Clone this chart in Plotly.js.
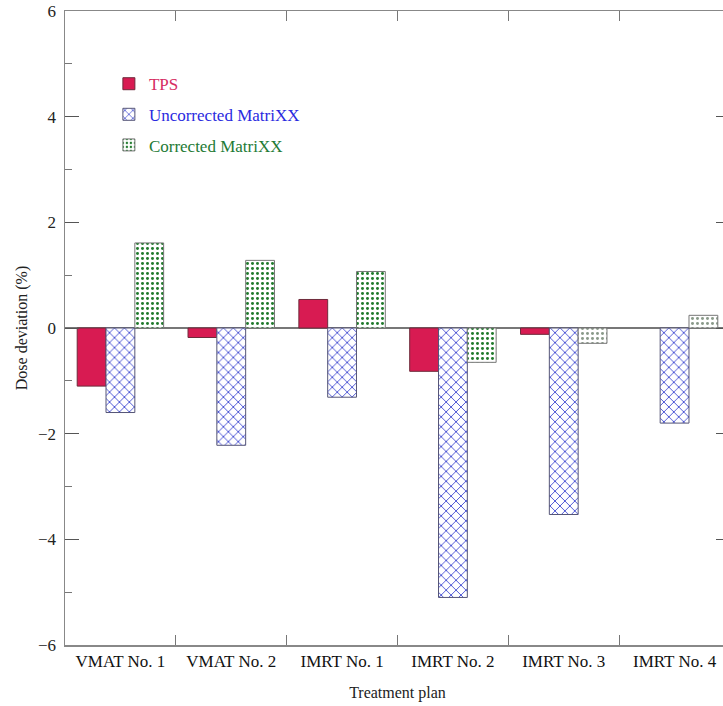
<!DOCTYPE html>
<html>
<head>
<meta charset="utf-8">
<script src="https://cdn.plot.ly/plotly-3.0.1.min.js"></script>
<style>
html,body{margin:0;padding:0;overflow:hidden;background:#fff;}
#chart{width:731px;height:706px;}
</style>
</head>
<body>
<div id="chart"></div>
<script>
var plans = ["VMAT No. 1", "VMAT No. 2", "IMRT No. 1", "IMRT No. 2", "IMRT No. 3", "IMRT No. 4"];
var tps = [-1.10, -0.18, 0.54, -0.82, -0.12, null];
var uncorrected = [-1.60, -2.22, -1.31, -5.10, -3.53, -1.80];
var corrected = [1.61, 1.28, 1.07, -0.65, -0.29, 0.24];
var seriesNames = ["TPS", "Uncorrected MatriXX", "Corrected MatriXX"];

var serif = "'Liberation Serif', 'Times New Roman', serif";
var correctedDots = ["#1f7a2c", "#1f7a2c", "#1f7a2c", "#1f7a2c", "#8a9a8a", "#8a9a8a"];

var traces = [
  {
    type: "bar", x: plans, y: tps,
    name: '<span style="color:#d62c62">' + seriesNames[0] + '</span>',
    legendgroup: "a",
    marker: {color: "#d81b52", line: {color: "#6e2a3a", width: 1}}
  },
  {
    type: "bar", x: plans, y: uncorrected,
    name: '<span style="color:#2a2ae0">' + seriesNames[1] + '</span>',
    legendgroup: "b",
    marker: {color: "#ffffff", line: {color: "#555577", width: 1},
      pattern: {shape: "x", fgcolor: "#2a36cc", bgcolor: "#ffffff", size: 7, solidity: 0.22}}
  },
  {
    type: "bar", x: plans, y: corrected,
    name: '<span style="color:#237a35">' + seriesNames[2] + '</span>',
    legendgroup: "c",
    marker: {color: "#ffffff", line: {color: "#777777", width: 1},
      pattern: {shape: ".", fgcolor: correctedDots, bgcolor: "#ffffff", size: 5, solidity: 0.28}}
  }
];

var layout = {
  width: 731, height: 706,
  margin: {l: 65, r: 1, t: 11, b: 61},
  paper_bgcolor: "#ffffff", plot_bgcolor: "#ffffff",
  font: {family: serif, size: 17, color: "#222222"},
  barmode: "group",
  bargap: 0.22,
  bargroupgap: 0,
  showlegend: true,
  legend: {
    x: 0.066, y: 0.913, xanchor: "left", yanchor: "top",
    bgcolor: "rgba(255,255,255,0)",
    font: {family: serif, size: 17},
    traceorder: "grouped", tracegroupgap: 5.5
  },
  xaxis: {
    type: "category",
    tickson: "boundaries",
    ticks: "inside", ticklen: 10, tickcolor: "#777777", tickwidth: 1,
    showline: true, linecolor: "#888888", linewidth: 1.5,
    mirror: "ticks",
    showgrid: false, zeroline: false,
    tickfont: {family: serif, size: 17, color: "#111111"},
    title: {text: "Treatment plan", font: {family: serif, size: 16, color: "#222222"}, standoff: 17}
  },
  yaxis: {
    range: [-6, 6], dtick: 2, tick0: 0,
    ticks: "inside", ticklen: 14, tickcolor: "#555555", tickwidth: 1,
    minor: {dtick: 1, ticks: "inside", ticklen: 7, tickcolor: "#777777", showgrid: false},
    showline: true, linecolor: "#888888", linewidth: 1.5,
    mirror: "ticks",
    showgrid: false,
    zeroline: true, zerolinecolor: "#777777", zerolinewidth: 1.5,
    tickfont: {family: serif, size: 17, color: "#222222"},
    ticklabelstandoff: 4,
    title: {text: "Dose deviation (%)", font: {family: serif, size: 16, color: "#222222"}, standoff: 6}
  }
};

Plotly.newPlot("chart", traces, layout, {displayModeBar: false, staticPlot: true});
</script>
</body>
</html>
